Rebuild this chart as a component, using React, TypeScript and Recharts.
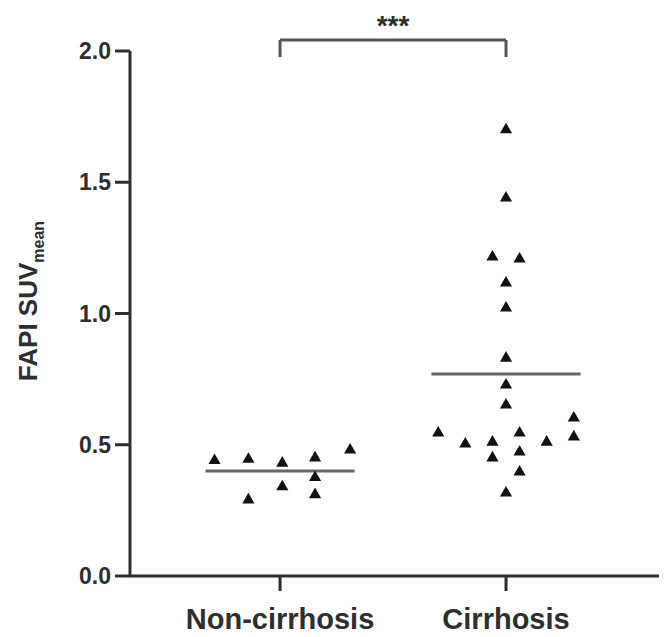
import { ScatterChart, Scatter, XAxis, YAxis, ZAxis, ReferenceLine, ReferenceDot } from 'recharts'

const groups = ['Non-cirrhosis', 'Cirrhosis']
const yTicks = [0, 0.5, 1.0, 1.5, 2.0]

// horizontal spread of each point (category units) and its SUVmean
const nonCirrhosisJitter = [-0.29, -0.14, -0.14, 0.01, 0.01, 0.155, 0.155, 0.155, 0.31]
const nonCirrhosisValues = [0.44, 0.445, 0.29, 0.43, 0.34, 0.45, 0.375, 0.31, 0.48]

const cirrhosisJitter = [
  0, 0, -0.06, 0.06, 0, 0, 0, 0, 0, -0.3,
  -0.18, -0.06, -0.06, 0.06, 0.06, 0.06, 0.18, 0.3, 0.3, 0,
]
const cirrhosisValues = [
  1.7, 1.44, 1.215, 1.208, 1.116, 1.021, 0.83, 0.728, 0.651, 0.545,
  0.503, 0.51, 0.45, 0.545, 0.472, 0.396, 0.51, 0.602, 0.53, 0.316,
]

const groupMeans = [0.4, 0.77]
const significance = '***'

const ink = '#2e2e2e'
const font = '"Liberation Sans", Arial, sans-serif'

const nonCirrhosisData = nonCirrhosisValues.map((v, i) => ({ x: 1 + nonCirrhosisJitter[i], y: v }))
const cirrhosisData = cirrhosisValues.map((v, i) => ({ x: 2 + cirrhosisJitter[i], y: v }))

function YLabel() {
  return (
    <text
      transform="translate(37, 301) rotate(-90)"
      textAnchor="middle"
      fill={ink}
      fontFamily={font}
      fontWeight="bold"
      fontSize={26}
    >
      FAPI SUV
      <tspan dy={7} fontSize={16}>mean</tspan>
    </text>
  )
}

export default function App() {
  return (
    <div>
      <style>{'body{margin:0;background:#fff}'}</style>
      <ScatterChart width={671} height={637} margin={{ top: 51, right: 12, bottom: 0, left: 0 }}>
        <XAxis
          type="number"
          dataKey="x"
          domain={[0.336, 2.677]}
          allowDataOverflow
          ticks={[1, 2]}
          tickFormatter={(v) => groups[v - 1]}
          height={61}
          tickSize={15}
          tickMargin={17}
          stroke={ink}
          strokeWidth={3}
          tick={{ fill: ink, fontSize: 29, fontWeight: 'bold', fontFamily: font }}
        />
        <YAxis
          type="number"
          dataKey="y"
          domain={[0, 2]}
          allowDataOverflow
          ticks={yTicks}
          tickFormatter={(v) => v.toFixed(1)}
          width={130}
          tickSize={15}
          tickMargin={4}
          stroke={ink}
          strokeWidth={3}
          tick={{ fill: ink, fontSize: 23, fontWeight: 'bold', fontFamily: font }}
          label={() => <YLabel />}
        />
        <ZAxis range={[85, 85]} />
        <Scatter data={nonCirrhosisData} shape="triangle" fill="#111" isAnimationActive={false} />
        <Scatter data={cirrhosisData} shape="triangle" fill="#111" isAnimationActive={false} />
        {groupMeans.map((m, i) => (
          <ReferenceLine
            key={i}
            segment={[{ x: i + 1 - 0.33, y: m }, { x: i + 1 + 0.33, y: m }]}
            stroke="#666"
            strokeWidth={3}
          />
        ))}
        <ReferenceLine segment={[{ x: 1, y: 2.042 }, { x: 2, y: 2.042 }]} stroke="#555" strokeWidth={3} ifOverflow="visible" />
        <ReferenceLine segment={[{ x: 1, y: 1.977 }, { x: 1, y: 2.042 }]} stroke="#555" strokeWidth={3} ifOverflow="visible" />
        <ReferenceLine segment={[{ x: 2, y: 1.977 }, { x: 2, y: 2.042 }]} stroke="#555" strokeWidth={3} ifOverflow="visible" />
        <ReferenceDot
          x={1.5}
          y={2.1}
          r={0}
          ifOverflow="visible"
          fill="none"
          stroke="none"
          label={{ value: significance, position: 'center', fill: ink, fontSize: 28, fontWeight: 'bold', fontFamily: font }}
        />
      </ScatterChart>
    </div>
  )
}
